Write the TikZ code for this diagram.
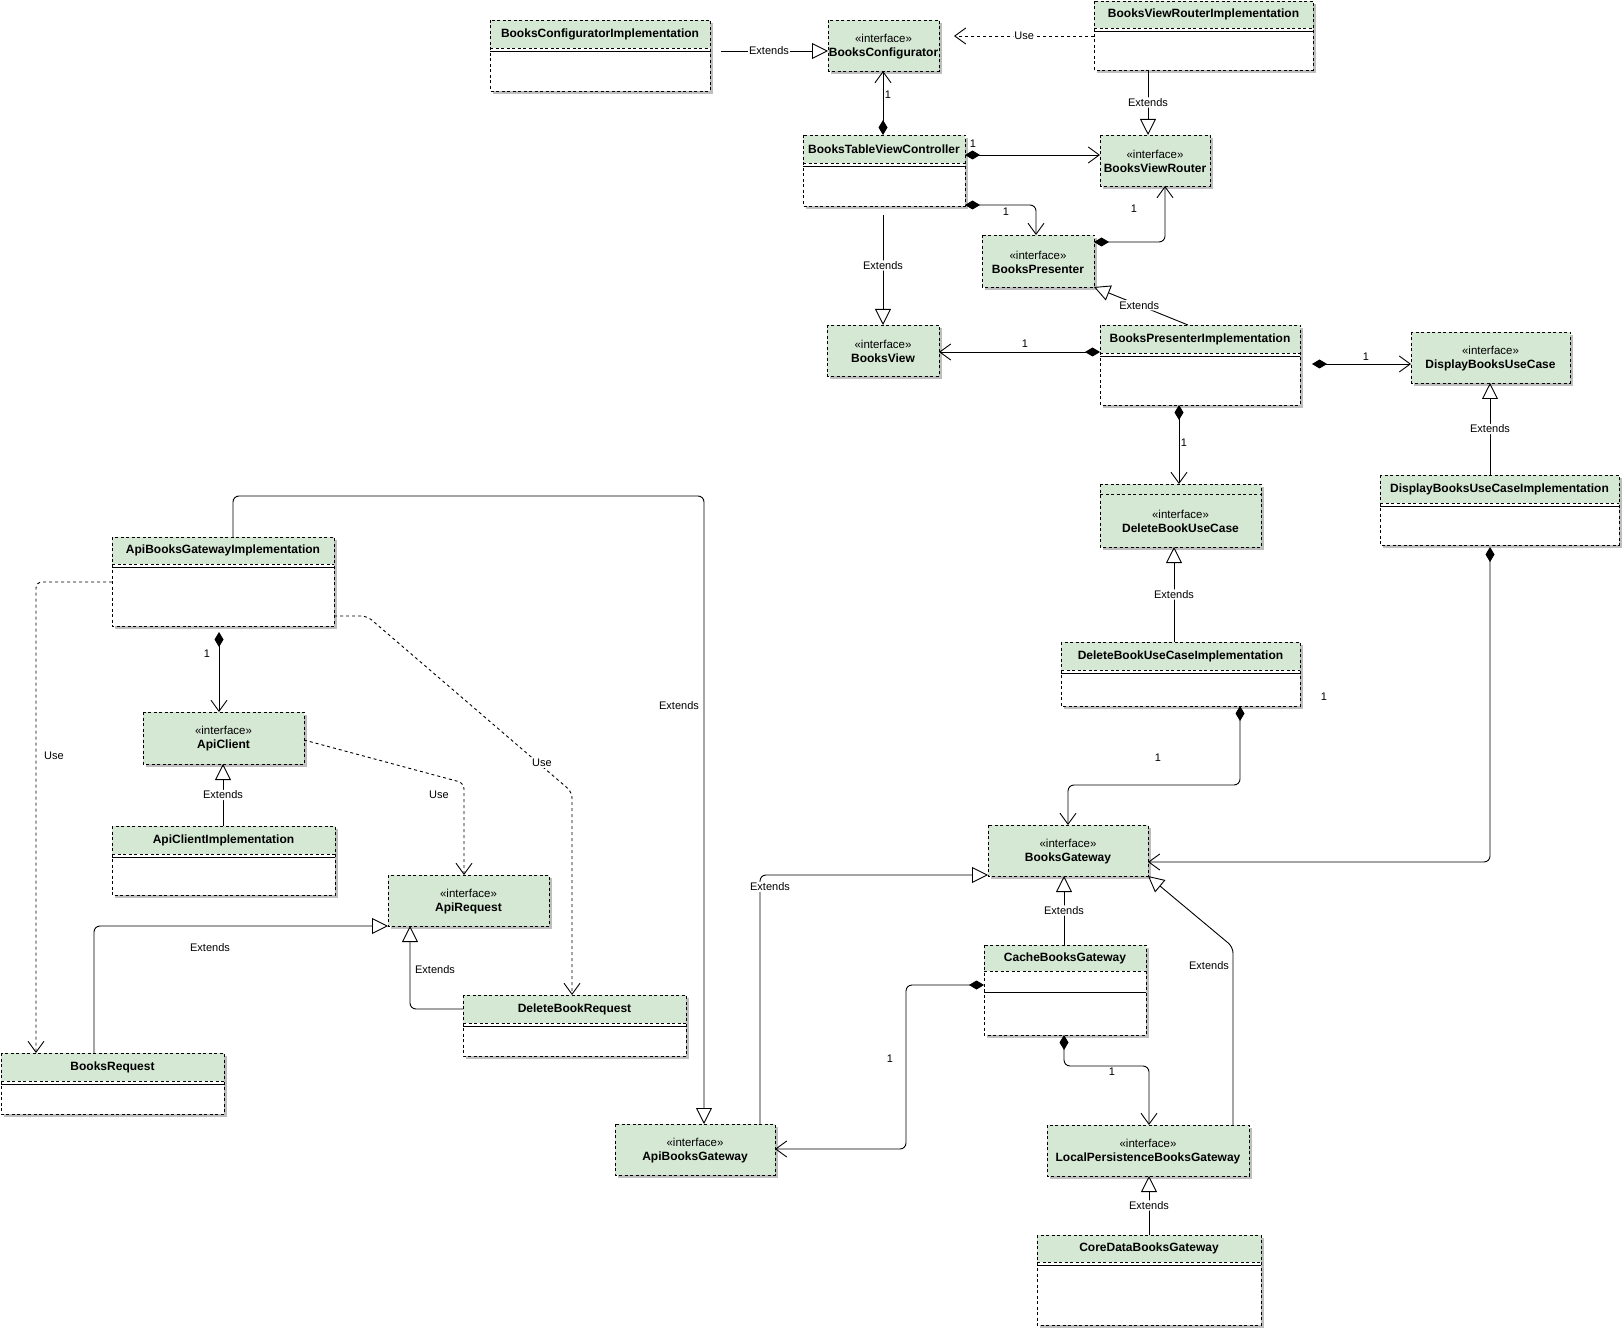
\documentclass[tikz,border=0pt]{standalone}
\usepackage{fontspec}
\setmainfont{Liberation Sans}
\usetikzlibrary{arrows.meta,calc}
\definecolor{hdr}{HTML}{D5E8D4}
\definecolor{shd}{HTML}{BEBEBE}
\tikzset{
  dashln/.style={draw=black, line width=0.9pt, dash pattern=on 3pt off 2.5pt},
  solidln/.style={draw=black, line width=0.9pt},
  conn/.style={line width=0.9pt, line join=round, rounded corners=6pt},
  ext/.style={conn, -{Triangle[open, length=16pt, width=16pt, line width=0.9pt]}},
  comp/.style={conn, {Diamond[length=15pt, width=9pt]}-{Straight Barb[length=11pt, width=16pt, line width=0.9pt]}},
  use/.style={conn, dash pattern=on 3pt off 3pt, -{Straight Barb[length=11pt, width=16pt, line width=0.9pt]}},
  lbl/.style={fill=white, inner sep=1pt, font=\fontsize{11}{13}\selectfont},
  num/.style={inner sep=0pt, font=\fontsize{11}{13}\selectfont},
  boxnode/.style={inner sep=0pt, outer sep=0pt, fill=white},
  ifnode/.style={inner sep=0pt, outer sep=0pt, fill=hdr},
  titletext/.style={inner sep=0pt, font=\fontsize{12}{14}\selectfont\bfseries},
  iftext/.style={inner sep=0pt, align=center, font=\fontsize{11.5}{14}\selectfont},
}
\newcommand\uclass[8]{%
  \fill[shd] (#2+3,#3+3) rectangle (#4+3,#5+3);
  \node[boxnode, minimum width={(#4-#2)*1pt}, minimum height={(#5-#3)*1pt}] (#1) at ({(#2+#4)/2},{(#3+#5)/2}) {};
  \fill[hdr] (#2,#3) rectangle (#4,#6);
  \draw[dashln] (#2,#6) -- (#4,#6);
  \draw[solidln] (#2,#7) -- (#4,#7);
  \draw[dashln] (#1.north west) rectangle (#1.south east);
  \node[titletext] (#1-t) at ({(#2+#4)/2},{(#3+#6)/2}) {#8};
}
\newcommand\iface[6]{%
  \fill[shd] (#2+3,#3+3) rectangle (#4+3,#5+3);
  \node[ifnode, minimum width={(#4-#2)*1pt}, minimum height={(#5-#3)*1pt}] (#1) at ({(#2+#4)/2},{(#3+#5)/2}) {};
  \draw[dashln] (#1.north west) rectangle (#1.south east);
  \node[iftext] (#1-t) at ({(#2+#4)/2},{(#3+#5)/2+1}) {«interface»\\{\fontsize{12}{14}\selectfont\bfseries #6}};
}
\begin{document}
\begin{tikzpicture}[x=1pt,y=-1pt]
\useasboundingbox (0,0) rectangle (1623,1329);

% ---------- classes ----------
\uclass{BCI}{490}{20}{710}{91}{48}{51}{BooksConfiguratorImplementation}
\uclass{BVRI}{1094}{1}{1313}{70}{28}{31}{BooksViewRouterImplementation}
\uclass{BTVC}{803}{135}{965}{206}{163}{166}{BooksTableViewController}
\uclass{BPI}{1100}{325}{1300}{405}{353}{356}{BooksPresenterImplementation}
\uclass{DispI}{1380}{475}{1619}{545}{503}{506}{DisplayBooksUseCaseImplementation}
\uclass{DelI}{1061}{642}{1300}{706}{670}{673}{DeleteBookUseCaseImplementation}
\uclass{ABGI}{112}{537}{334}{626}{564}{567}{ApiBooksGatewayImplementation}
\uclass{ACI}{112}{826}{335}{895}{854}{857}{ApiClientImplementation}
\uclass{DBR}{463}{995}{686}{1056}{1023}{1026}{DeleteBookRequest}
\uclass{BR}{1}{1053}{224}{1114}{1081}{1084}{BooksRequest}
\uclass{CBG}{984}{945}{1146}{1035}{971}{992}{CacheBooksGateway}
\uclass{CDBG}{1037}{1235}{1261}{1325}{1262}{1265}{CoreDataBooksGateway}

% ---------- interfaces ----------
\iface{BC}{828}{20}{939}{71}{BooksConfigurator}
\iface{BVR}{1100}{135}{1210}{186}{BooksViewRouter}
\iface{BP}{982}{235}{1094}{287}{BooksPresenter}
\iface{BV}{827}{325}{939}{376}{BooksView}
\iface{DispUC}{1411}{332}{1570}{383}{DisplayBooksUseCase}
\iface{AC}{143}{712}{304}{764}{ApiClient}
\iface{AR}{388}{875}{549}{926}{ApiRequest}
\iface{ABG}{615}{1124}{775}{1175}{ApiBooksGateway}
\iface{BG}{988}{825}{1148}{876}{BooksGateway}
\iface{LPBG}{1047}{1125}{1249}{1176}{LocalPersistenceBooksGateway}
% DeleteBookUseCase (with an empty top compartment)
\fill[shd] (1103,487) rectangle (1264,550);
\node[ifnode, minimum width=161pt, minimum height=63pt] (DelUC) at (1180.5,515.5) {};
\draw[dashln] (1100,494) -- (1261,494);
\draw[dashln] (DelUC.north west) rectangle (DelUC.south east);
\node[iftext] (DelUC-t) at (1180.5,521) {«interface»\\{\fontsize{12}{14}\selectfont\bfseries DeleteBookUseCase}};

% ---------- connectors: top area ----------
\draw[ext, shorten <=11pt] (BCI.east |- 0,51) -- node[lbl] (e1) {Extends} (BC.west |- 0,51);
\draw[use, shorten >=15pt] (BVRI.west |- 0,36) -- node[lbl, pos=0.45] (u1) {Use} (BC.east |- 0,36);
\draw[ext] (1148,0 |- BVRI.south) -- node[lbl] (e2) {Extends} (1148,0 |- BVR.north);
\draw[comp] (883,0 |- BTVC.north) -- (883,0 |- BC.south);
\draw[comp] (BTVC.east |- 0,155) -- (BVR.west |- 0,155);
\draw[comp] (BTVC.east |- 0,205) -| (1036,0 |- BP.north);
\draw[ext, shorten <=9pt] (883,0 |- BTVC.south) -- node[lbl] (e3) {Extends} (883,0 |- BV.north);
\draw[comp] (BP.east |- 0,242) -| (1165,0 |- BVR.south);
\draw[ext] (1188,0 |- BPI.north) -- node[lbl, pos=0.52] (e4) {Extends} (BP.south east);
\draw[comp] (BPI.west |- 0,352) -- (BV.east |- 0,352);
\draw[comp, shorten <=12pt] (BPI.east |- 0,364) -- (DispUC.west |- 0,364);
\draw[comp] (1179,0 |- BPI.south) -- (1179,0 |- DelUC.north);
\draw[ext] (1490,0 |- DispI.north) -- node[lbl] (e5) {Extends} (1490,0 |- DispUC.south);
\draw[comp, shorten <=2pt] (1490,0 |- DispI.south) |- (BG.east |- 0,862);
\draw[ext] (1174,0 |- DelI.north) -- node[lbl] (e6) {Extends} (1174,0 |- DelUC.south);
\draw[comp] (1240,0 |- DelI.south) -- (1240,785) -| (1068,0 |- BG.north);

% ---------- connectors: gateways ----------
\draw[ext] (1064,0 |- CBG.north) -- node[lbl] (e7) {Extends} (1064,0 |- BG.south);
\draw[ext] (1233,0 |- LPBG.north) -- (1233,947) -- (BG.south east);
\draw[ext] (760,0 |- ABG.north) |- (BG.west |- 0,875);
\draw[comp] (CBG.west |- 0,985) -- (906,985) |- (ABG.east |- 0,1149);
\draw[comp] (1064,0 |- CBG.south) -- (1064,1066) -| (1149,0 |- LPBG.north);
\draw[ext] (1149,0 |- CDBG.north) -- node[lbl] (e8) {Extends} (1149,0 |- LPBG.south);

% ---------- connectors: api area ----------
\draw[ext] (233,0 |- ABGI.north) |- (704,496) -- (704,0 |- ABG.north);
\draw[comp, shorten <=6pt] (219,0 |- ABGI.south) -- (219,0 |- AC.north);
\draw[use] (ABGI.west |- 0,582) -| (36,0 |- BR.north);
\draw[use] (ABGI.east |- 0,616) -- (367,616) -- (572,792) -- (572,0 |- DBR.north);
\draw[use] (AC.east |- 0,740) -- (464,783) -- (464,0 |- AR.north);
\draw[ext] (223,0 |- ACI.north) -- node[lbl] (e9) {Extends} (223,0 |- AC.south);
\draw[ext] (94,0 |- BR.north) |- (AR.south west);
\draw[ext] (DBR.west |- 0,1009) -| (410,0 |- AR.south);

% ---------- free labels ----------
\node[lbl] (e10) at (1209,966) {Extends};
\node[lbl] (e11) at (770,887) {Extends};
\node[lbl] (e12) at (679,706) {Extends};
\node[lbl] (e13) at (210,948) {Extends};
\node[lbl] (e14) at (435,970) {Extends};
\node[lbl] (u2) at (54,756) {Use};
\node[lbl] (u3) at (542,763) {Use};
\node[lbl] (u4) at (439,795) {Use};

\node[num] (m1) at (888,95) {1};
\node[num] (m2) at (973,144) {1};
\node[num] (m3) at (1006,212) {1};
\node[num] (m4) at (1134,209) {1};
\node[num] (m5) at (1025,344) {1};
\node[num] (m6) at (1366,357) {1};
\node[num] (m7) at (1184,443) {1};
\node[num] (m8) at (1158,758) {1};
\node[num] (m9) at (1324,697) {1};
\node[num] (m10) at (890,1059) {1};
\node[num] (m11) at (1112,1072) {1};
\node[num] (m12) at (207,654) {1};
\end{tikzpicture}
\end{document}
